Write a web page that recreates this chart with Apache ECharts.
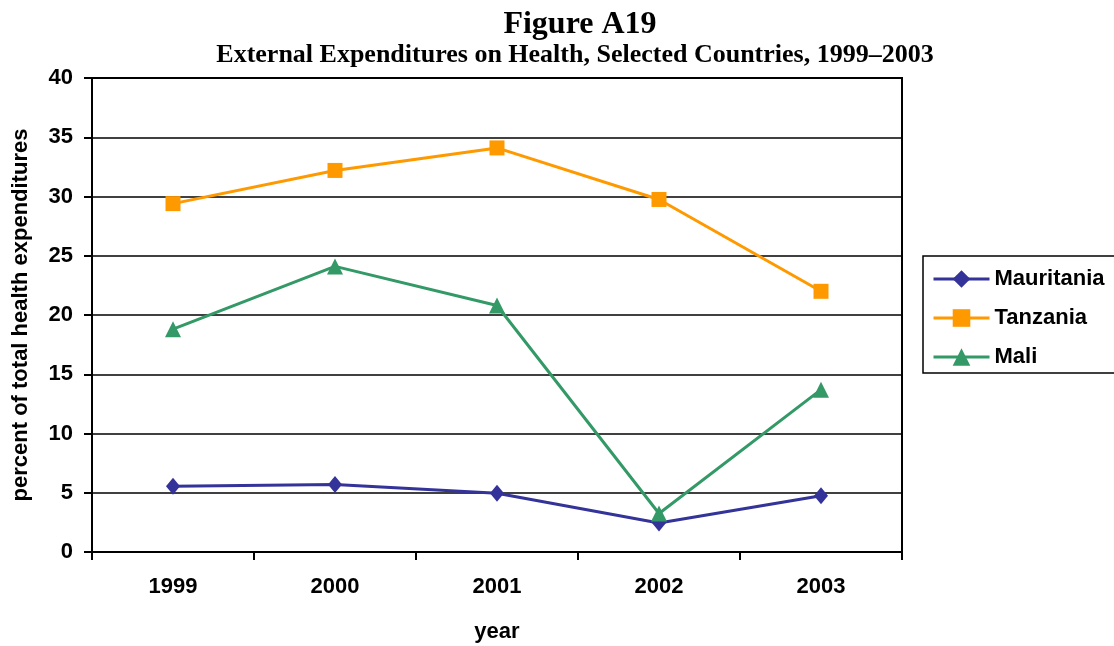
<!DOCTYPE html>
<html>
<head>
<meta charset="utf-8">
<script src="https://cdn.jsdelivr.net/npm/echarts@6/dist/echarts.min.js"></script>
<style>
  html, body { margin: 0; padding: 0; background: #fff; }
  #chart { width: 1114px; height: 646px; }
</style>
</head>
<body>
<div id="chart"></div>
<script>
const years = ['1999', '2000', '2001', '2002', '2003']
const mauritania = [5.55, 5.7, 4.95, 2.45, 4.75]
const tanzania = [29.4, 32.2, 34.1, 29.75, 22.0]
const mali = [18.8, 24.1, 20.8, 3.25, 13.7]

const sans = '"Liberation Sans", Arial, sans-serif'
const serif = '"Liberation Serif", "Times New Roman", serif'

const chart = echarts.init(document.getElementById('chart'))

const makeSeries = (name, data, color, symbol, size) => ({
  name,
  type: 'line',
  data,
  symbol,
  symbolSize: size,
  showAllSymbol: true,
  lineStyle: { color, width: 3 },
  itemStyle: { color },
  emphasis: { disabled: true }
})

const option = {
  animation: false,
  title: [
    {
      text: 'Figure A19',
      left: 580,
      top: 9,
      padding: 0,
      textAlign: 'center',
      textStyle: { fontFamily: serif, fontSize: 32, fontWeight: 'bold', color: '#000' }
    },
    {
      text: 'External Expenditures on Health, Selected Countries, 1999\u20132003',
      left: 575,
      top: 42,
      padding: 0,
      textAlign: 'center',
      textStyle: { fontFamily: serif, fontSize: 26, fontWeight: 'bold', color: '#000' }
    }
  ],
  legend: {
    orient: 'vertical',
    left: 923,
    top: 256,
    padding: [12, 20, 5, 9],
    itemWidth: 56,
    itemHeight: 22,
    itemGap: 17,
    borderColor: '#000',
    borderWidth: 1.5,
    lineStyle: { width: 3 },
    textStyle: { fontFamily: sans, fontSize: 22, fontWeight: 'bold', color: '#000' },
    data: ['Mauritania', 'Tanzania', 'Mali']
  },
  grid: {
    left: 92,
    right: 212,
    top: 78,
    bottom: 94,
    show: true,
    borderColor: '#000',
    borderWidth: 2,
    containLabel: false,
    outerBoundsMode: 'none'
  },
  xAxis: {
    type: 'category',
    data: years,
    boundaryGap: true,
    name: 'year',
    nameLocation: 'middle',
    nameGap: 69,
    nameTextStyle: { fontFamily: sans, fontSize: 22, fontWeight: 'bold', color: '#000' },
    axisLine: { lineStyle: { color: '#000', width: 2 } },
    axisTick: { show: true, length: 8, lineStyle: { color: '#000', width: 2 } },
    axisLabel: { fontFamily: sans, fontSize: 22, fontWeight: 'bold', color: '#000', margin: 24 },
    splitLine: { show: false }
  },
  yAxis: {
    type: 'value',
    min: 0,
    max: 40,
    interval: 5,
    name: 'percent of total health expenditures',
    nameLocation: 'middle',
    nameGap: 60,
    nameTextStyle: { fontFamily: sans, fontSize: 22, fontWeight: 'bold', color: '#000' },
    axisLine: { show: true, lineStyle: { color: '#000', width: 2 } },
    axisTick: { show: true, length: 8, lineStyle: { color: '#000', width: 2 } },
    axisLabel: { fontFamily: sans, fontSize: 22, fontWeight: 'bold', color: '#000', margin: 19 },
    splitLine: { lineStyle: { color: '#000', width: 1.5 } }
  },
  series: [
    makeSeries('Mauritania', mauritania, '#333399', 'diamond', [14, 17]),
    makeSeries('Tanzania', tanzania, '#FF9900', 'rect', 15),
    makeSeries('Mali', mali, '#339966', 'triangle', 16)
  ]
}

chart.setOption(option)
</script>
</body>
</html>
